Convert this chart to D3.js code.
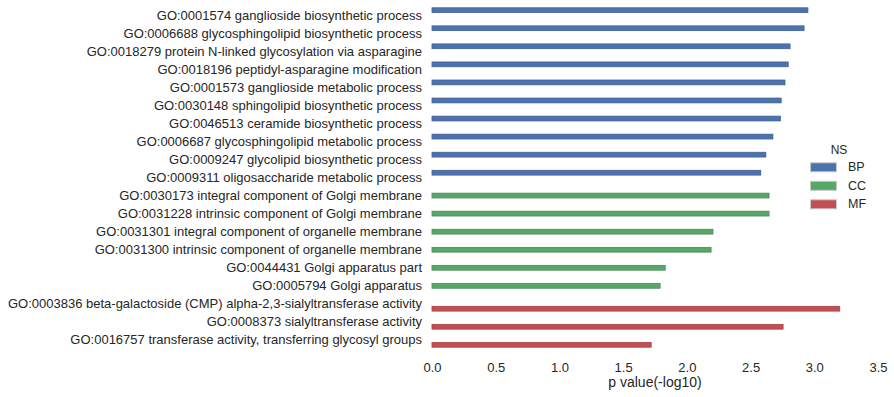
<!DOCTYPE html>
<html><head><meta charset="utf-8">
<script src="https://cdn.jsdelivr.net/npm/d3@7"></script>
<style>
body{margin:0;background:#fff;}
text{font-family:"Liberation Sans",Arial,sans-serif;fill:#262626;}
</style></head>
<body><svg id="c" width="894" height="397"></svg>
<script>
const terms = [
"GO:0001574 ganglioside biosynthetic process",
"GO:0006688 glycosphingolipid biosynthetic process",
"GO:0018279 protein N-linked glycosylation via asparagine",
"GO:0018196 peptidyl-asparagine modification",
"GO:0001573 ganglioside metabolic process",
"GO:0030148 sphingolipid biosynthetic process",
"GO:0046513 ceramide biosynthetic process",
"GO:0006687 glycosphingolipid metabolic process",
"GO:0009247 glycolipid biosynthetic process",
"GO:0009311 oligosaccharide metabolic process",
"GO:0030173 integral component of Golgi membrane",
"GO:0031228 intrinsic component of Golgi membrane",
"GO:0031301 integral component of organelle membrane",
"GO:0031300 intrinsic component of organelle membrane",
"GO:0044431 Golgi apparatus part",
"GO:0005794 Golgi apparatus",
"GO:0003836 beta-galactoside (CMP) alpha-2,3-sialyltransferase activity",
"GO:0008373 sialyltransferase activity",
"GO:0016757 transferase activity, transferring glycosyl groups"
];
const namespaces = ["BP","BP","BP","BP","BP","BP","BP","BP","BP","BP","CC","CC","CC","CC","CC","CC","MF","MF","MF"];
const pvalues = [2.95,2.92,2.81,2.795,2.77,2.74,2.735,2.675,2.62,2.58,2.645,2.645,2.205,2.19,1.83,1.79,3.20,2.755,1.72];
const nsLevels = ["BP","CC","MF"];
const nsColors = ["#4C72B0","#55A868","#C44E52"];
const xTicks = [0,0.5,1.0,1.5,2.0,2.5,3.0,3.5];

const svg = d3.select("#c");
const x = d3.scaleLinear().domain([0,3.5]).range([432,878]);
const y = d3.scaleBand().domain(terms).range([6,349]).paddingInner(0).paddingOuter(0);
const inner = y.bandwidth()*0.8;
const hue = d3.scaleBand().domain(nsLevels).range([-inner/2, inner/2]);
const color = d3.scaleOrdinal().domain(nsLevels).range(nsColors);

const data = terms.map((t,i)=>({term:t, ns:namespaces[i], v:pvalues[i]}));

const g = svg.append("g");
// halo
g.selectAll("rect.halo").data(data).enter().append("rect")
  .attr("x", x(0)-0.5)
  .attr("y", d=>y(d.term)+y.bandwidth()/2+hue(d.ns)-0.5)
  .attr("width", d=>x(d.v)-x(0)+1)
  .attr("height", hue.bandwidth()+1)
  .attr("fill","#cfcfcf");
g.selectAll("rect.bar").data(data).enter().append("rect")
  .attr("x", x(0))
  .attr("y", d=>y(d.term)+y.bandwidth()/2+hue(d.ns))
  .attr("width", d=>x(d.v)-x(0))
  .attr("height", hue.bandwidth())
  .attr("fill", d=>color(d.ns))
  .attr("stroke", d=>d3.color(color(d.ns)).darker(0.6))
  .attr("stroke-width",0.6);

// y labels
svg.append("g").selectAll("text").data(terms).enter().append("text")
  .attr("x", 422).attr("y", d=>y(d)+y.bandwidth()/2)
  .attr("text-anchor","end").attr("dominant-baseline","central")
  .style("font-size","13px").text(d=>d);

// x axis
const xa = svg.append("g").attr("transform","translate(0,349)")
  .call(d3.axisBottom(x).tickValues(xTicks).tickFormat(d3.format(".1f")).tickSize(0).tickPadding(14));
xa.select(".domain").remove();
xa.selectAll("text").style("font-size","13px").attr("fill","#262626")
  .style("font-family","Liberation Sans, Arial, sans-serif");

svg.append("text").attr("x",655).attr("y",387).attr("text-anchor","middle")
  .style("font-size","14px").text("p value(-log10)");

// legend
const lg = svg.append("g");
lg.append("text").attr("x",839).attr("y",150).attr("text-anchor","middle")
  .attr("dominant-baseline","central").style("font-size","12px").text("NS");
const items = lg.selectAll("g.item").data(nsLevels).enter().append("g")
  .attr("transform",(d,i)=>`translate(0,${167.3+i*18.5})`);
items.append("rect").attr("x",810.5).attr("y",-4.5).attr("width",26).attr("height",9)
  .attr("fill",d=>color(d)).attr("stroke","#c8c8c8").attr("stroke-width",1);
items.append("text").attr("x",848).attr("y",0).attr("dominant-baseline","central")
  .style("font-size","12.5px").text(d=>d);
</script></body></html>
